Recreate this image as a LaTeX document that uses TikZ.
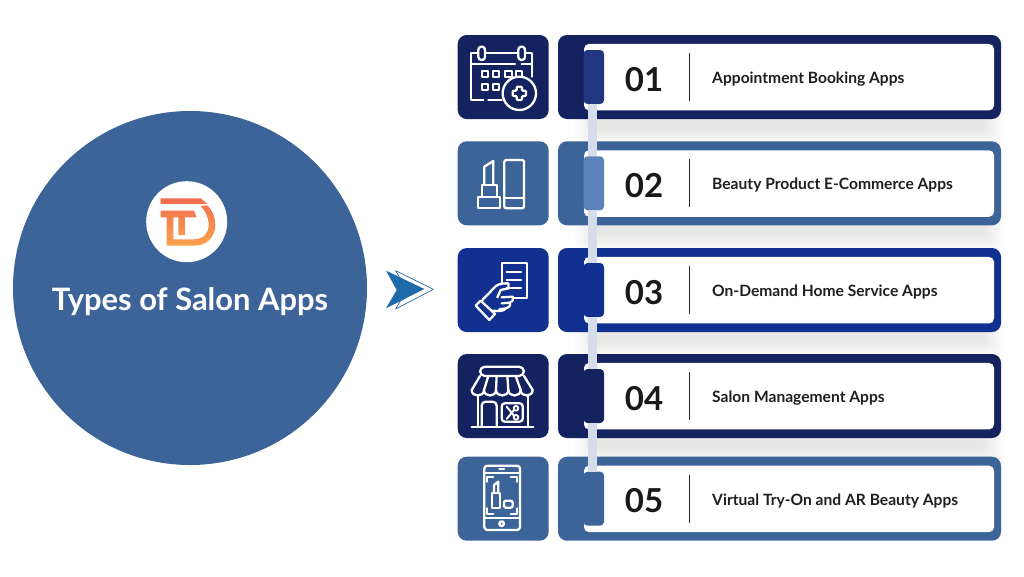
\documentclass[tikz,border=0pt]{standalone}
\usepackage{fontspec}
\setmainfont{Lato}
\definecolor{navy}{HTML}{14235F}
\definecolor{steel}{HTML}{3D6499}
\definecolor{royal}{HTML}{123090}
\definecolor{tabnavy}{HTML}{20367F}
\definecolor{tabsteel}{HTML}{5B82B8}
\definecolor{spinecol}{HTML}{D5DCEA}
\definecolor{arrowblue}{HTML}{1F6AA8}
\definecolor{logotop}{HTML}{F26B50}
\definecolor{logobot}{HTML}{F9A34E}
\tikzset{
  box/.style={inner sep=0pt,outer sep=0pt,rounded corners=#1},
  tile/.style={box=9pt,minimum width=91pt,minimum height=84pt},
  band/.style={box=9pt,minimum width=443pt,minimum height=84pt},
  card/.style={box=5pt,fill=white,minimum width=410pt,minimum height=66.5pt},
  tabbox/.style={box=4pt,minimum width=20.5pt,minimum height=54pt},
  spine/.style={draw=spinecol,line width=9pt},
  rule/.style={draw=black!85,line width=0.9pt},
  numtext/.style={inner sep=0pt,font=\fontsize{33}{33}\selectfont\bfseries,text=black!90},
  labeltext/.style={inner sep=0pt,font=\fontsize{15.6}{17}\selectfont\bfseries,text=black!88},
  icon/.style={draw=white,line width=2.3pt,line join=round,line cap=round},
  thinicon/.style={draw=white,line width=1.9pt,line join=round,line cap=round},
  softshadow/.style={fill=black,opacity=0.012,rounded corners=6pt},
}
\newcommand{\itemrow}[6]{%
  % #1 index, #2 top y, #3 colour, #4 tab colour, #5 number, #6 label
  \node[tile,fill=#3] (tile#1) at (503.2,#2+42) {};
  \node[band,fill=#3] (band#1) at (779.5,#2+42) {};
  \node[card] (card#1) at (789,#2+42.2) {};
  \node[tabbox,fill=#4] (tab#1) at (593.8,#2+42) {};
  \node[numtext,anchor=base] (num#1) at (644,#2+56) {#5};
  \coordinate (ruleA#1) at (689.5,#2+18);
  \coordinate (ruleB#1) at (689.5,#2+66);
  \draw[rule] (ruleA#1) -- (ruleB#1);
  \node[labeltext,anchor=base west] (label#1) at (712,#2+48.6) {#6};
}
\begin{document}
\begin{tikzpicture}[x=1pt,y=-1pt]
\useasboundingbox (0,0) rectangle (1024,576);
\fill[white] (0,0) rectangle (1024,576);

% soft shadows under rows 1-4
\foreach \t in {35,141.3,248,354}
  \foreach \k in {0,...,7}
    \fill[softshadow] ({575+3*\k},\t+70) rectangle ({1005-3*\k},{\t+110-2.2*\k});

% big circle
\node[circle,fill=steel,minimum size=354pt,inner sep=0pt,outer sep=0pt] (hub) at (190,288) {};
\node[circle,fill=white,minimum size=81pt,inner sep=0pt,outer sep=0pt] (logo) at (186.7,221.7) {};
\node[inner sep=0pt,text=white,font=\fontsize{30.9}{33}\selectfont\bfseries] (title) at (190,301.5) {Types of Salon Apps};
% logo mark
\begin{scope}[shift={(130,180)},x=0.3333pt,y=-0.3333pt]
\shade[top color=logotop,bottom color=logobot]
  (92,55) -- (212,55) -- (232,72) -- (92,72) -- cycle
  (92,92) -- (192,92) -- (200,112) -- (165,112) -- (165,165) -- (145,165) -- (145,112) -- (130,112) -- (130,178)
  -- (190,178) .. controls (222,178) and (236,158) .. (236,135) .. controls (236,112) and (226,92) .. (212,78)
  -- (232,76) .. controls (248,92) and (256,112) .. (256,135) .. controls (256,170) and (230,197) .. (195,197)
  -- (110,197) -- (110,112) -- (92,112) -- cycle;
\end{scope}

% arrow
\begin{scope}[shift={(375,260)},x=0.3333pt,y=-0.3333pt]
\draw[draw=arrowblue,line width=0.7pt,line join=round] (62,32) -- (175,88) -- (62,147) -- (95,90) -- cycle;
\fill[arrowblue] (33,32) -- (148,87) -- (33,145) -- (65,90) -- cycle;
\end{scope}

% rows
\itemrow{1}{35}{navy}{tabnavy}{01}{Appointment Booking Apps}
\itemrow{2}{141.3}{steel}{tabsteel}{02}{Beauty Product E-Commerce Apps}
\itemrow{3}{248}{royal}{royal}{03}{On-Demand Home Service Apps}
\itemrow{4}{354}{navy}{navy}{04}{Salon Management Apps}
\itemrow{5}{456.7}{steel}{steel}{05}{Virtual Try-On and AR Beauty Apps}

% spine
\coordinate (spinex) at (592.5,0);
\foreach \a/\b in {1/2,2/3,3/4,4/5}
  \draw[spine] (tab\a.south -| spinex) -- (tab\b.north -| spinex);

% icon 1: calendar
\begin{scope}[shift={(450,25)},x=0.3333pt,y=-0.3333pt]
\draw[icon] (100,225) -- (64,225) -- (64,85) -- (85,85) (105,85) -- (205,85) (225,85) -- (245,85) -- (245,155) (115,225) -- (155,225);
\draw[icon,rounded corners=3pt] (85,65) rectangle (105,105);
\draw[icon,rounded corners=3pt] (205,65) rectangle (225,105);
\draw[icon] (64,118) -- (195,118) (215,118) -- (245,118);
\foreach \gx/\gy in {95/137,128/137,165/137,197/137,95/177,128/177}
  \draw[thinicon] (\gx,\gy) rectangle ++(20,18);
\fill[navy] (208,205) circle (50);
\draw[icon] (208,205) circle (50);
\draw[icon,rounded corners=1pt] (200,185) -- (216,185) -- (216,197) -- (228,197) -- (228,213) -- (216,213) -- (216,225) -- (200,225) -- (200,213) -- (188,213) -- (188,197) -- (200,197) -- cycle;
% icon 2: lipstick and tube
\draw[icon] (85,515) rectangle (150,550);
\draw[icon] (95,480) rectangle (140,515);
\draw[icon] (103,480) -- (103,425) -- (130,408) -- (130,480);
\draw[icon,rounded corners=2pt] (163,405) rectangle (222,550);
\draw[icon] (163,518) -- (222,518);
\end{scope}

% icon 3: hand with paper; icon 4: store
\begin{scope}[shift={(450,240)},x=0.3333pt,y=-0.3333pt]
\draw[icon] (155,130) -- (155,68) -- (230,68) -- (230,175) -- (190,175);
\draw[icon] (170,95) -- (213,95) (170,120) -- (213,120) (170,145) -- (213,145);
\draw[icon] (77,197) -- (92,182) -- (135,222) -- (118,240) -- cycle;
\draw[icon] (97,180) -- (138,138) .. controls (148,130) and (165,130) .. (175,130) -- (176,145) -- (152,150) -- (142,172);
\draw[icon] (155,172) -- (188,170) .. controls (192,178) and (188,186) .. (180,188) -- (155,190) (180,188) .. controls (182,198) and (176,204) .. (168,205) -- (148,208) (168,205) .. controls (160,214) and (150,214) .. (128,212);
% store
\draw[icon,rounded corners=5pt] (90,380) rectangle (222,408);
\draw[icon] (90,408) -- (65,450) (222,408) -- (248,450);
\foreach \sa/\sb in {65/102,102/138,138/175,175/212,212/248}
  \draw[icon] (\sa,450) .. controls (\sa,472) and (\sb,472) .. (\sb,450);
\draw[icon] (115,408) -- (102,450) (140,408) -- (138,450) (172,408) -- (175,450) (197,408) -- (212,450);
\draw[icon] (85,468) -- (85,560) (235,468) -- (235,560) (65,560) -- (250,560);
\draw[icon,rounded corners=4pt] (95,560) -- (95,485) -- (140,485) -- (140,560);
\draw[icon,rounded corners=3pt] (155,490) rectangle (218,545);
\draw[thinicon] (170,500) -- (192,527) (170,537) -- (192,510);
\draw[thinicon] (198,505) circle (7) (198,532) circle (7);
\end{scope}

% icon 5: phone
\begin{scope}[shift={(450,440)},x=0.3333pt,y=-0.3333pt]
\draw[icon,rounded corners=3pt] (103,77) rectangle (210,270);
\draw[icon] (103,100) -- (210,100) (103,235) -- (210,235) (148,88) -- (162,88);
\draw[icon] (155,251) circle (7);
\draw[icon] (112,125) -- (112,110) -- (130,110) (182,110) -- (200,110) -- (200,125) (112,205) -- (112,222) -- (130,222) (182,222) -- (200,222) -- (200,205);
\draw[icon] (125,160) rectangle (150,203);
\draw[icon] (132,160) -- (132,135) -- (145,125) -- (145,160);
\draw[icon,rounded corners=2pt] (162,182) rectangle (188,203);
\end{scope}
\end{tikzpicture}
\end{document}
